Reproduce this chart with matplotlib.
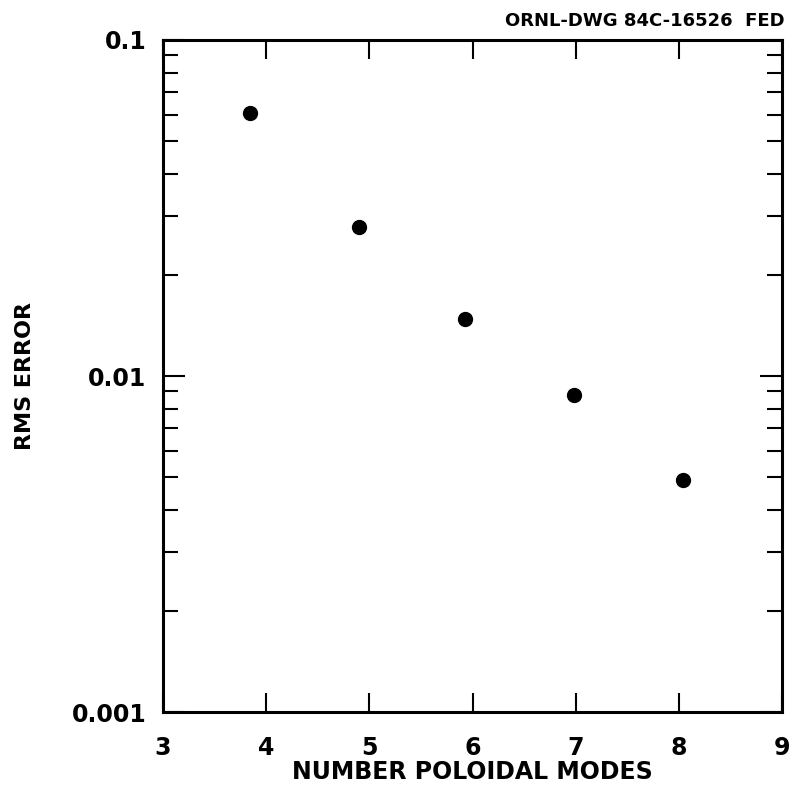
import numpy as np
from matplotlib import pyplot as plt
from matplotlib.ticker import LogLocator, NullFormatter, FixedLocator

modes = [3.84, 4.9, 5.93, 6.98, 8.04]
rms_error = [0.0605, 0.0278, 0.0148, 0.0088, 0.0049]

y_ticks = [0.001, 0.01, 0.1]
y_tick_labels = ['0.001', '0.01', '0.1']
x_ticks = [3, 4, 5, 6, 7, 8, 9]

plt.rcParams['font.family'] = ['DejaVu Sans']
plt.rcParams['font.weight'] = 'bold'

fig = plt.figure(figsize=(7.99, 7.92), dpi=100)
ax = fig.add_axes([0.204, 0.101, 0.775, 0.8485])

ax.plot(modes, rms_error, 'o', color='black', markersize=10)

ax.set_yscale('log')
ax.set_xlim(3, 9)
ax.set_ylim(0.001, 0.1)

ax.xaxis.set_major_locator(FixedLocator(x_ticks))
ax.set_xticklabels([str(t) for t in x_ticks])
ax.yaxis.set_major_locator(FixedLocator(y_ticks))
ax.set_yticklabels(y_tick_labels)
ax.yaxis.set_minor_locator(LogLocator(base=10, subs=np.arange(2, 10)))
ax.yaxis.set_minor_formatter(NullFormatter())

ax.tick_params(which='both', direction='in', top=True, right=True, width=1.5,
               labelsize=17, pad=10)
ax.tick_params(axis='x', which='major', length=14, pad=17)
ax.tick_params(axis='y', which='major', length=16, pad=12)
ax.tick_params(axis='y', which='minor', length=11)
for s in ax.spines.values():
    s.set_linewidth(2.2)

ax.set_xlabel('NUMBER POLOIDAL MODES', fontsize=17, fontweight='bold', labelpad=0)
ax.set_ylabel('RMS ERROR', fontsize=16, fontweight='bold', labelpad=26)

fig.text(0.982, 0.962, 'ORNL-DWG 84C-16526  FED', ha='right', va='bottom',
         fontsize=13, fontweight='bold')

fig.savefig('out.png', dpi=100)
